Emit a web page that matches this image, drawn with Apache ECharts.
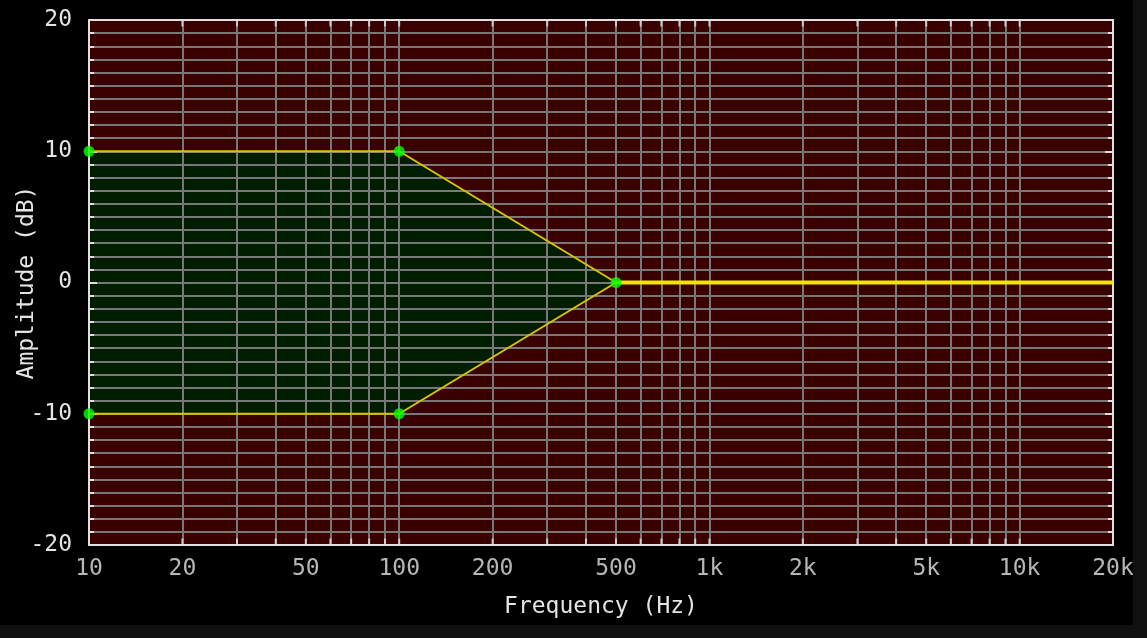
<!DOCTYPE html>
<html><head><meta charset="utf-8">
<script src="https://cdn.jsdelivr.net/npm/echarts@6/dist/echarts.min.js"></script>
<style>
html,body{margin:0;padding:0;background:#101010;width:1147px;height:638px;overflow:hidden}
#c{width:1133px;height:625px;background:#000}
</style>
</head><body><div id="c"></div><script>
// ---- data ----
const freqTickValues = [10, 20, 50, 100, 200, 500, 1000, 2000, 5000, 10000, 20000];
const freqTickLabels = ['10', '20', '50', '100', '200', '500', '1k', '2k', '5k', '10k', '20k'];
const gridFreqs = [20, 30, 40, 50, 60, 70, 80, 90, 100, 200, 300, 400, 500, 600, 700, 800, 900,
  1000, 2000, 3000, 4000, 5000, 6000, 7000, 8000, 9000, 10000];
const upperBand = [[10, 10], [100, 10], [500, 0]];
const lowerBand = [[10, -10], [100, -10], [500, 0]];
const flatLine = [[500, 0], [20000, 0]];
const controlPoints = [[10, 10], [100, 10], [500, 0], [100, -10], [10, -10]];
const ampMin = -20, ampMax = 20, ampStep = 10;

// ---- styles ----
const FONT = 'DejaVu Sans Mono';
const FS = 23;
const TXT = '#e4e4e4';
const GRID = '#787878';
const BORDER = '#e0e0e0';

const chart = echarts.init(document.getElementById('c'), null, {renderer: 'canvas'});
const yCommon = {
  type: 'value', min: ampMin, max: ampMax, interval: ampStep, z: 5,
  axisLine: {show: true, lineStyle: {color: BORDER, width: 2}},
  axisTick: {show: true, inside: true, length: 8, lineStyle: {color: BORDER, width: 2}},
  minorTick: {show: true, splitNumber: 10, length: 5, lineStyle: {color: BORDER, width: 2}}
};
chart.setOption({
  animation: false,
  backgroundColor: '#000',
  grid: {left: 89, top: 20, width: 1024, height: 525, show: true, backgroundColor: '#3a0000', borderWidth: 0,
         containLabel: false, outerBoundsMode: 'none'},
  xAxis: [
    {type: 'log', logBase: 10, min: 10, max: 20000, position: 'bottom', z: 5,
     axisLine: {show: true, onZero: false, lineStyle: {color: BORDER, width: 2}},
     axisTick: {show: false}, axisLabel: {show: false}, splitLine: {show: false},
     name: 'Frequency (Hz)', nameLocation: 'middle', nameGap: 51, nameMoveOverlap: false,
     nameTextStyle: {color: TXT, fontFamily: FONT, fontSize: FS}},
    {type: 'log', logBase: 10, min: 10, max: 20000, position: 'top', z: 5,
     axisLine: {show: true, onZero: false, lineStyle: {color: BORDER, width: 2}},
     axisTick: {show: false}, axisLabel: {show: false}, splitLine: {show: false}}
  ],
  yAxis: [
    Object.assign({}, yCommon, {
      position: 'left', z: 2,
      axisLabel: {color: TXT, fontFamily: FONT, fontSize: FS, margin: 17},
      splitLine: {show: true, showMinLine: false, showMaxLine: false, lineStyle: {color: GRID, width: 2}},
      minorSplitLine: {show: true, lineStyle: {color: GRID, width: 2}},
      name: 'Amplitude (dB)', nameLocation: 'middle', nameGap: 50, nameRotate: 90, nameMoveOverlap: false,
      nameTextStyle: {color: TXT, fontFamily: FONT, fontSize: FS}
    }),
    Object.assign({}, yCommon, {
      position: 'right',
      axisLabel: {show: false}, splitLine: {show: false}
    })
  ],
  series: [
    {type: 'line', name: 'bandUpperFill', data: upperBand, z: 1, symbol: 'none', silent: true,
     lineStyle: {width: 0, opacity: 0}, areaStyle: {color: '#001d00', opacity: 1}},
    {type: 'line', name: 'bandLowerFill', data: lowerBand, z: 1, symbol: 'none', silent: true,
     lineStyle: {width: 0, opacity: 0}, areaStyle: {color: '#001d00', opacity: 1}},
    {type: 'scatter', name: 'bottomTicks', z: 5, silent: true,
     data: gridFreqs.map(f => [f, ampMin]), symbol: 'rect', symbolSize: [2, 7], symbolOffset: [0, -3],
     itemStyle: {color: BORDER},
     markLine: {silent: true, z: 2, symbol: 'none', label: {show: false}, animation: false,
       lineStyle: {color: GRID, width: 2, type: 'solid'},
       emphasis: {disabled: true},
       data: gridFreqs.map(f => ({xAxis: f}))}},
    {type: 'scatter', name: 'topTicks', z: 5, silent: true,
     data: gridFreqs.map(f => [f, ampMax]), symbol: 'rect', symbolSize: [2, 7], symbolOffset: [0, 3],
     itemStyle: {color: BORDER}},
    {type: 'scatter', name: 'freqLabels', z: 5, silent: true, clip: false,
     data: freqTickValues.map(f => [f, ampMin]), symbolSize: 0,
     label: {show: true, position: 'bottom', distance: 13, color: TXT, fontFamily: FONT, fontSize: FS,
       formatter: p => freqTickLabels[p.dataIndex]}},
    {type: 'line', name: 'upper', data: upperBand, z: 6, symbol: 'none', silent: true,
     lineStyle: {color: '#d8c400', width: 2}},
    {type: 'line', name: 'lower', data: lowerBand, z: 6, symbol: 'none', silent: true,
     lineStyle: {color: '#d8c400', width: 2}},
    {type: 'line', name: 'flat', data: flatLine, z: 6, symbol: 'none', silent: true,
     lineStyle: {color: '#f4e400', width: 4}},
    {type: 'scatter', name: 'points', data: controlPoints, z: 7, symbolSize: 11, clip: false,
     itemStyle: {color: '#00ff00'}}
  ]
});
</script></body></html>
